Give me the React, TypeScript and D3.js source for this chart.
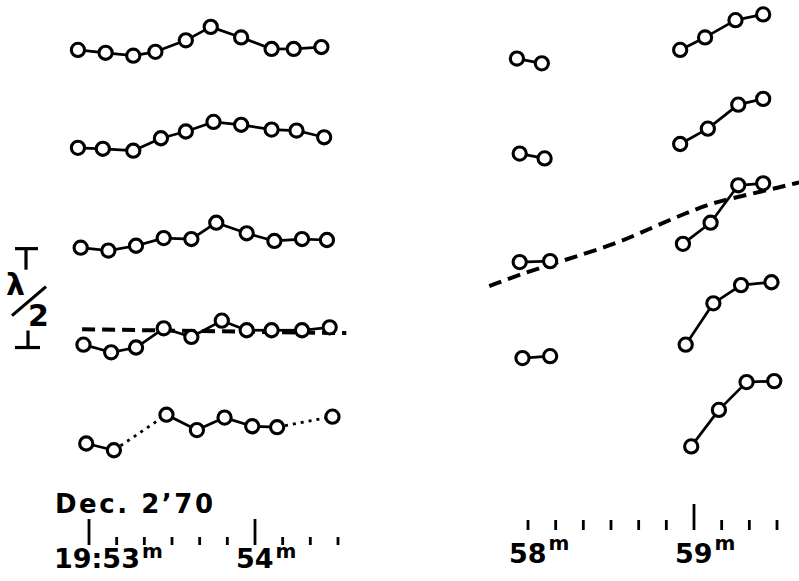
import { useEffect, useRef } from 'react'
import * as d3 from 'd3'

// times are seconds after 19:53:00, values are in units of lambda/2
const leftTimes = [
  [-4, 6, 16, 24, 35, 44, 55, 66, 74, 84],
  [-4, 5, 16, 26, 35, 45, 55, 66, 75, 85],
  [-3, 7, 17, 27, 37, 46, 57, 67, 77, 86],
  [-2, 8, 17, 27, 37, 48, 57, 66, 77, 87],
  [-1, 9, 28, 39, 49, 59, 68, 88]
]
const leftValues = [
  [4.48, 4.45, 4.42, 4.46, 4.58, 4.72, 4.61, 4.49, 4.49, 4.51],
  [3.46, 3.45, 3.43, 3.56, 3.63, 3.73, 3.70, 3.65, 3.64, 3.57],
  [2.42, 2.39, 2.44, 2.52, 2.51, 2.68, 2.57, 2.49, 2.51, 2.50],
  [1.41, 1.33, 1.38, 1.58, 1.49, 1.66, 1.56, 1.56, 1.56, 1.59],
  [0.38, 0.31, 0.68, 0.52, 0.65, 0.56, 0.55, 0.66]
]
// bottom row has gaps, bridged with dotted links
const bottomLinks = ['solid', 'dotted', 'solid', 'solid', 'solid', 'solid', 'dotted']

const pairTimes = [[296, 305], [297, 306], [297, 308], [298, 308]]
const pairValues = [[4.39, 4.34], [3.40, 3.35], [2.27, 2.28], [1.27, 1.29]]

const quadTimes = [
  [355, 364, 375, 385],
  [355, 365, 376, 385],
  [356, 366, 376, 385],
  [357, 367, 377, 388],
  [359, 369, 379, 389]
]
const quadValues = [
  [4.48, 4.61, 4.79, 4.85],
  [3.50, 3.66, 3.91, 3.97],
  [2.46, 2.68, 3.07, 3.09],
  [1.41, 1.84, 2.03, 2.06],
  [0.35, 0.73, 1.02, 1.03]
]

const leftDashTimes = [-2.5, 93]
const leftDashValues = [1.57, 1.53]
const rightDashTimes = [286, 297, 313, 331, 345, 357, 367, 379, 391, 398]
const rightDashValues = [2.02, 2.14, 2.29, 2.45, 2.63, 2.78, 2.89, 2.97, 3.05, 3.10]

const leftTicks = [0, 10, 20, 30, 40, 50, 60, 70, 80, 90]
const rightTicks = [300, 310, 320, 330, 340, 350, 360, 370, 380, 390]
const majorTicks = [0, 60, 360]
const tickLabels = ['19:53', '54', '58', '59']
const labelTimes = [0, 60, 300, 360]

const scaleBar = [2.41, 1.38]

export default function App() {
  const svgRef = useRef(null)

  useEffect(() => {
    const W = 799
    const H = 581
    const svg = d3.select(svgRef.current)
    svg.selectAll('*').remove()
    svg.attr('width', W).attr('height', H)

    const xL = d3.scaleLinear().domain([0, 60]).range([89, 255])
    const xR = d3.scaleLinear().domain([300, 360]).range([528, 694])
    const x = t => (t < 200 ? xL(t) : xR(t))
    const y = d3.scaleLinear().domain([0, 5]).range([480, 0])

    const ink = '#000'
    const font = 'DejaVu Sans, sans-serif'

    // dashed reference curves
    const line = d3.line().x(d => x(d[0])).y(d => y(d[1])).curve(d3.curveBasis)
    ;[[leftDashTimes, leftDashValues], [rightDashTimes, rightDashValues]].forEach(([ts, vs]) => {
      svg.append('path')
        .attr('d', line(ts.map((t, i) => [t, vs[i]])))
        .attr('fill', 'none')
        .attr('stroke', ink)
        .attr('stroke-width', 4)
        .attr('stroke-dasharray', '13 7')
    })

    // groups of connected points
    const groups = []
    leftTimes.forEach((ts, r) => groups.push({ ts, vs: leftValues[r], links: r === 4 ? bottomLinks : null }))
    pairTimes.forEach((ts, r) => groups.push({ ts, vs: pairValues[r], links: null }))
    quadTimes.forEach((ts, r) => groups.push({ ts, vs: quadValues[r], links: null }))

    groups.forEach(g => {
      const pts = g.ts.map((t, i) => [x(t), y(g.vs[i])])
      for (let i = 0; i < pts.length - 1; i++) {
        const style = g.links ? g.links[i] : 'solid'
        svg.append('line')
          .attr('x1', pts[i][0]).attr('y1', pts[i][1])
          .attr('x2', pts[i + 1][0]).attr('y2', pts[i + 1][1])
          .attr('stroke', ink)
          .attr('stroke-width', style === 'dotted' ? 2.8 : 2.7)
          .attr('stroke-dasharray', style === 'dotted' ? '3 5' : null)
      }
      svg.append('g').selectAll('circle')
        .data(pts)
        .join('circle')
        .attr('cx', d => d[0])
        .attr('cy', d => d[1])
        .attr('r', 6.6)
        .attr('fill', '#fff')
        .attr('stroke', ink)
        .attr('stroke-width', 3.1)
    })

    // broken time axis, ticks only
    const axes = [
      { ticks: leftTicks, base: 545, minor: 8, labelY: 568, mDy: -10 },
      { ticks: rightTicks, base: 530, minor: 10, labelY: 563, mDy: -13 }
    ]
    axes.forEach(a => {
      svg.append('g').selectAll('line')
        .data(a.ticks)
        .join('line')
        .attr('x1', d => x(d)).attr('x2', d => x(d))
        .attr('y1', d => a.base - (majorTicks.includes(d) ? 26 : a.minor))
        .attr('y2', a.base)
        .attr('stroke', ink)
        .attr('stroke-width', 2.8)
    })

    tickLabels.forEach((lab, i) => {
      const t = labelTimes[i]
      const a = t < 200 ? axes[0] : axes[1]
      const txt = svg.append('text')
        .attr('x', x(t) + (i === 0 ? -35 : -19))
        .attr('y', a.labelY)
        .attr('font-family', font)
        .attr('font-weight', 'bold')
        .attr('font-size', 27)
        .attr('fill', ink)
      txt.append('tspan').text(lab)
      txt.append('tspan')
        .attr('dx', 2)
        .attr('dy', a.mDy)
        .attr('font-size', 20)
        .text('m')
    })

    svg.append('text')
      .attr('x', 55)
      .attr('y', 513)
      .attr('font-family', font)
      .attr('font-weight', 'bold')
      .attr('font-size', 26)
      .attr('textLength', 158)
      .attr('lengthAdjust', 'spacing')
      .attr('fill', ink)
      .text('Dec. 2\u201970')

    // lambda/2 scale bar
    const top = y(scaleBar[0])
    const bot = y(scaleBar[1])
    const sb = svg.append('g').attr('stroke', ink).attr('stroke-width', 3.2)
    sb.append('line').attr('x1', 15).attr('x2', 38).attr('y1', top).attr('y2', top)
    sb.append('line').attr('x1', 26).attr('x2', 26).attr('y1', top).attr('y2', top + 21)
    sb.append('line').attr('x1', 15).attr('x2', 40).attr('y1', bot).attr('y2', bot)
    sb.append('line').attr('x1', 28).attr('x2', 28).attr('y1', bot).attr('y2', bot - 17)
    sb.append('line').attr('x1', 12).attr('x2', 46).attr('y1', top + 67).attr('y2', top + 38)
    svg.append('text')
      .attr('x', 6).attr('y', top + 46)
      .attr('font-family', font).attr('font-weight', 'bold').attr('font-size', 30).attr('fill', ink)
      .text('λ')
    svg.append('text')
      .attr('x', 28).attr('y', top + 77)
      .attr('font-family', font).attr('font-weight', 'bold').attr('font-size', 30).attr('fill', ink)
      .text('2')
  }, [])

  return (
    <div style={{ position: 'absolute', left: 0, top: 0, background: '#fff' }}>
      <svg ref={svgRef} style={{ display: 'block' }} />
    </div>
  )
}
